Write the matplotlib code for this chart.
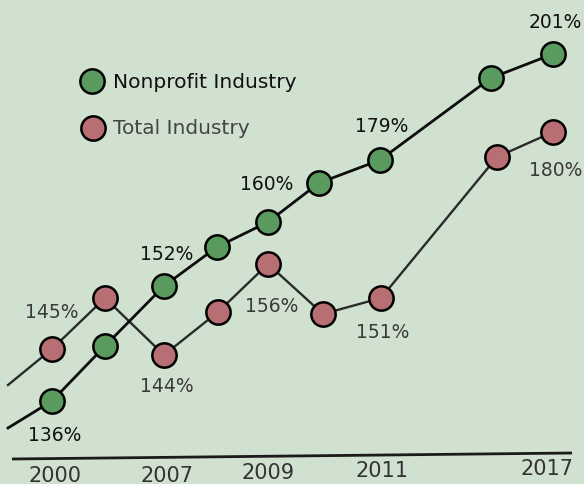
import matplotlib.pyplot as plt

# canvas is 584 x 485 px; x and levels below are read off the picture in px units
# (levels counted up from the bottom edge)
nonprofit_x = [52, 105, 164, 217, 268, 319, 380, 491, 553]
nonprofit_level = [83, 138, 198, 237, 262, 301, 324, 406, 430]
total_x = [52, 105, 164, 218, 268, 323, 381, 497, 553]
total_level = [135, 186, 129, 172, 220, 170, 186, 327, 352]

# lines run in from the left edge
nonprofit_lead = (8, 56)
total_lead = (8, 99)

# value labels: (point index, text, dx, dy) in px
nonprofit_labels = [(0, "136%", 3, -34), (2, "152%", 3, 33), (5, "160%", -52, 0),
                    (6, "179%", 2, 35), (8, "201%", 2, 32)]
total_labels = [(0, "145%", 0, 37), (2, "144%", 3, -30), (4, "156%", 4, -41),
                (6, "151%", 2, -33), (8, "180%", 3, -37)]

years = ["2000", "2007", "2009", "2011", "2017"]
year_x = [55, 167, 268, 382, 547]
year_level = [9, 9, 12, 14, 16]

BG = "#d1e1d0"
GREEN = "#5b9a5e"
RED = "#b86f74"

plt.rcParams["font.family"] = ["DejaVu Sans"]

fig = plt.figure(figsize=(5.84, 4.85), dpi=100, facecolor=BG)
ax = fig.add_axes([0, 0, 1, 1])
ax.set_facecolor(BG)
ax.set_xlim(0, 584)
ax.set_ylim(0, 485)
ax.axis("off")

# baseline (slightly tilted as in the original)
ax.plot([12, 572], [25, 31], color="#1a1a1a", lw=2.0, solid_capstyle="butt")

for xs, ys, lead, color, lcolor, lw in [
    (total_x, total_level, total_lead, RED, "#2a2a2a", 1.7),
    (nonprofit_x, nonprofit_level, nonprofit_lead, GREEN, "#0d0d0d", 2.0),
]:
    ax.plot([lead[0], xs[0]], [lead[1], ys[0]], color=lcolor, lw=lw, zorder=2)
    ax.plot(xs, ys, color=lcolor, lw=lw, marker="o", ms=17.5, mfc=color,
            mec="black", mew=1.8, zorder=3)

for idx, txt, dx, dy in nonprofit_labels:
    ax.annotate(txt, (nonprofit_x[idx], nonprofit_level[idx]), xytext=(dx, dy),
                textcoords="offset pixels", ha="center", va="center",
                fontsize=13.5, color="#111111")
for idx, txt, dx, dy in total_labels:
    ax.annotate(txt, (total_x[idx], total_level[idx]), xytext=(dx, dy),
                textcoords="offset pixels", ha="center", va="center",
                fontsize=13.5, color="#3a3a3a")

for yr, x, y in zip(years, year_x, year_level):
    ax.text(x, y, yr, ha="center", va="center", fontsize=15, color="#333333")

# legend
ax.plot([92], [403], marker="o", ms=17.5, mfc=GREEN, mec="black", mew=1.8)
ax.text(113, 403, "Nonprofit Industry", ha="left", va="center", fontsize=14.5,
        color="#111111")
ax.plot([93], [356], marker="o", ms=17.5, mfc=RED, mec="black", mew=1.8)
ax.text(113, 356, "Total Industry", ha="left", va="center", fontsize=14.5,
        color="#444444")

fig.savefig("out.png", dpi=100, facecolor=BG)
